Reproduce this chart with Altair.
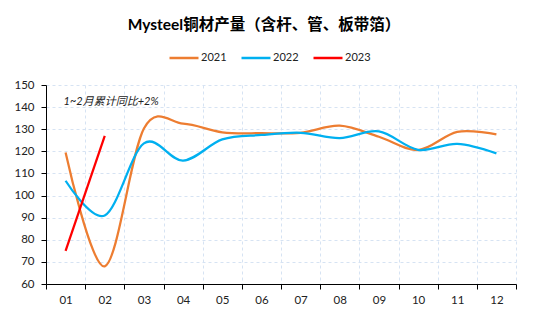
import altair as alt
import pandas as pd

months = ["01", "02", "03", "04", "05", "06", "07", "08", "09", "10", "11", "12"]
v2021 = [119.5, 68, 130.3, 132.5, 128.6, 128.2, 128.4, 131.6, 126.6, 120.6, 128.8, 127.7]
v2022 = [106.7, 91, 123.6, 115.8, 125.4, 127.4, 128.4, 126.0, 129.0, 120.7, 123.4, 119.1]
v2023 = [75, 127]
series = ["2021", "2022", "2023"]
colors = ["#ED7D31", "#00B0F0", "#FF0000"]

note_text = "1~2月累计同比+2%"
note_month = "01"
note_value = 142.2

rows = []
for name, vals in zip(series, [v2021, v2022, v2023]):
    for m, v in zip(months, vals):
        rows.append({"month": m, "value": v, "year": name})
df = pd.DataFrame(rows)

FONT = "Lato, Noto Sans CJK SC, sans-serif"
GRID = "#d6e3f3"

x_enc = alt.X(
    "month:O",
    scale=alt.Scale(type="band", domain=months, paddingInner=0, paddingOuter=0),
    axis=alt.Axis(
        title=None, tickBand="extent", grid=True, gridDash=[3, 3], gridColor=GRID,
        domainColor="#000", tickColor="#000", tickSize=5, labelPadding=5,
        labelFontSize=11.5, labelFont=FONT, labelColor="#222", labelAngle=0,
    ),
)
y_enc = alt.Y(
    "value:Q",
    scale=alt.Scale(domain=[60, 150], nice=False, zero=False),
    axis=alt.Axis(
        title=None, values=list(range(60, 151, 10)), tickCount=10, grid=True, gridDash=[3, 3],
        gridColor=GRID, domainColor="#000", tickColor="#000", tickSize=5,
        labelPadding=7, labelFontSize=11.5, labelFont=FONT, labelColor="#222",
        labelOverlap=False, labelFlush=False,
    ),
)

lines = alt.Chart(df).mark_line(interpolate="cardinal", strokeWidth=2.25).encode(
    x=x_enc,
    y=y_enc,
    color=alt.Color(
        "year:N",
        scale=alt.Scale(domain=series, range=colors),
        legend=alt.Legend(
            title=None, orient="none", legendX=122, legendY=-43, direction="horizontal",
            symbolType="stroke", symbolSize=841, symbolStrokeWidth=2.5,
            labelFontSize=11, labelFont=FONT, labelColor="#222",
            columnPadding=9, labelOffset=1,
        ),
    ),
)

note = alt.Chart(pd.DataFrame({"month": [note_month], "value": [note_value], "text": [note_text]})).mark_text(
    align="left", dx=-2, fontStyle="italic", fontSize=11, font=FONT, color="#222"
).encode(x=x_enc, y=y_enc, text="text:N")

chart = alt.layer(lines, note).properties(
    width=470,
    height=199,
    title=alt.TitleParams(
        text="Mysteel铜材产量（含杆、管、板带箔）", fontSize=15.5, fontWeight="bold",
        font=FONT, color="#000", anchor="middle", dx=-17, offset=9,
    ),
    autosize=alt.AutoSizeParams(type="none"),
    padding={"left": 46, "top": 85, "right": 23, "bottom": 41},
    background="white",
).configure_view(stroke=None)

chart.save("out.html", embed_options={"renderer": "svg", "actions": False})
